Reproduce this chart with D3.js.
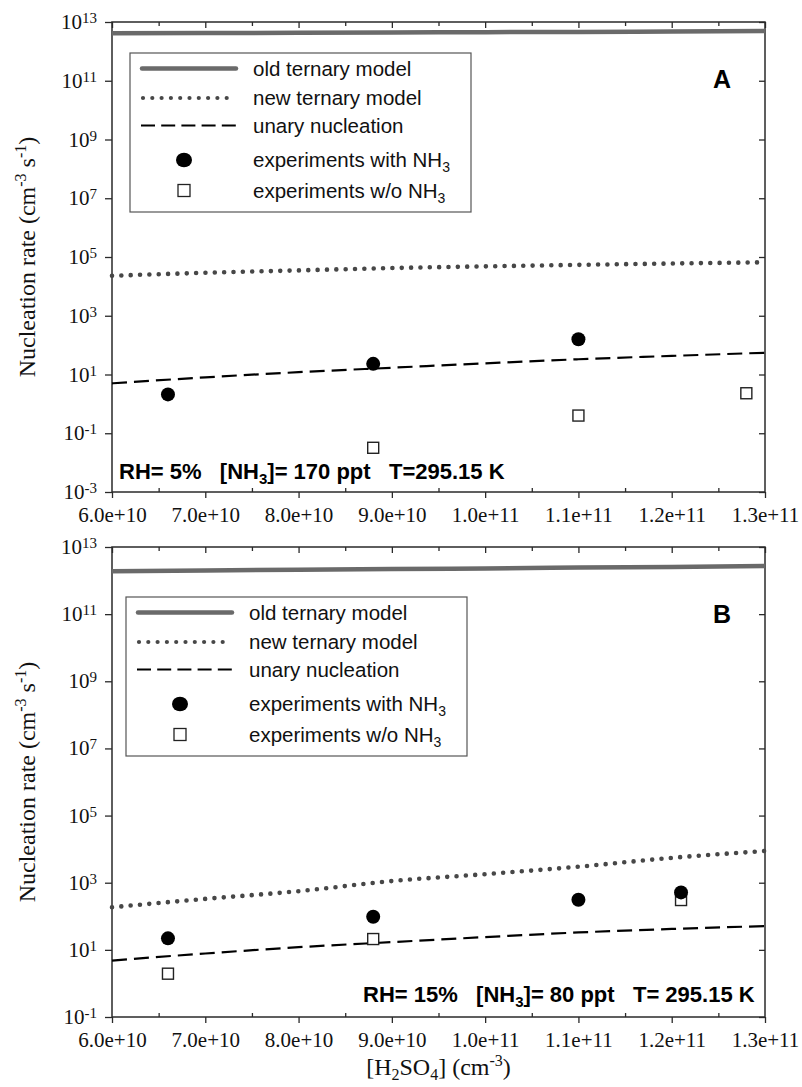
<!DOCTYPE html>
<html>
<head>
<meta charset="utf-8">
<script src="https://cdn.jsdelivr.net/npm/d3@7/dist/d3.min.js"></script>
<style>
  html, body { margin: 0; padding: 0; background: #fff; }
  svg { display: block; }
</style>
</head>
<body>
<svg id="chart" width="802" height="1087"></svg>
<script>
// ---- data ----------------------------------------------------------------
// H2SO4 concentration grid (cm^-3) on which the model curves are given
const modelX = [6.0e10, 7.0e10, 8.0e10, 9.0e10, 1.0e11, 1.1e11, 1.2e11, 1.3e11];

// Panel A: RH 5 %, NH3 170 ppt
const oldTernaryA = [4.1e12, 4.2e12, 4.3e12, 4.4e12, 4.5e12, 4.6e12, 4.75e12, 4.9e12];
const newTernaryA = [2.3e4, 2.9e4, 3.5e4, 4.2e4, 4.8e4, 5.4e4, 6.0e4, 6.6e4];
const unaryA      = [5.0, 8.0, 12, 17, 24, 33, 43, 55];
const withNH3A_x  = [6.6e10, 8.8e10, 1.1e11];
const withNH3A_y  = [2.1, 23, 158];
const noNH3A_x    = [8.8e10, 1.1e11, 1.28e11];
const noNH3A_y    = [0.032, 0.40, 2.3];

// Panel B: RH 15 %, NH3 80 ppt
const oldTernaryB = [1.9e12, 2.0e12, 2.1e12, 2.2e12, 2.3e12, 2.45e12, 2.55e12, 2.7e12];
const newTernaryB = [186, 330, 560, 1.12e3, 1.8e3, 3.0e3, 5.5e3, 8.8e3];
const unaryB      = [4.8, 7.8, 12, 17, 24, 33, 42, 51];
const withNH3B_x  = [6.6e10, 8.8e10, 1.1e11, 1.21e11];
const withNH3B_y  = [22, 97, 310, 515];
const noNH3B_x    = [6.6e10, 8.8e10, 1.21e11];
const noNH3B_y    = [1.95, 21, 305];

// Axis ticks
const xMajorTicks = [6.0e10, 7.0e10, 8.0e10, 9.0e10, 1.0e11, 1.1e11, 1.2e11, 1.3e11];
const xMinorTicks = [6.5e10, 7.5e10, 8.5e10, 9.5e10, 1.05e11, 1.15e11, 1.25e11];
const yExpA = [13, 11, 9, 7, 5, 3, 1, -1, -3];
const yExpB = [13, 11, 9, 7, 5, 3, 1, -1];

const legendLabels = ["old ternary model", "new ternary model", "unary nucleation",
                      "experiments with NH", "experiments w/o NH"];

// ---- drawing -------------------------------------------------------------
const SERIF = '"Liberation Serif", "Times New Roman", Times, serif';
const SANS = '"Liberation Sans", Arial, Helvetica, sans-serif';
const svg = d3.select("#chart");
const X0 = 112, X1 = 765;
const GREY_THICK = "#6a6a6a", GREY_DOT = "#474747", FRAME = "#2a2a2a";

function panel(cfg) {
  const x = d3.scaleLinear().domain([6.0e10, 1.3e11]).range([X0, X1]);
  const y = d3.scaleLog().domain([Math.pow(10, cfg.yMin), 1e13]).range([cfg.bottom, cfg.top]);
  const g = svg.append("g");

  // bottom: major ticks outside with labels, minor ticks inside
  const bx = g.append("g").attr("transform", `translate(0,${cfg.bottom})`)
    .call(d3.axisBottom(x).tickValues(xMajorTicks).tickSize(6).tickPadding(9)
      .tickFormat(d3.format(".1e")));
  bx.attr("font-family", null).attr("font-size", null);
  bx.selectAll("text").style("font-family", SERIF).style("font-size", "21px").attr("fill", "#111");
  g.append("g").attr("transform", `translate(0,${cfg.bottom})`)
    .call(d3.axisBottom(x).tickValues(xMinorTicks).tickSize(-4).tickFormat(""));

  // top: all ticks inside
  g.append("g").attr("transform", `translate(0,${cfg.top})`)
    .call(d3.axisTop(x).tickValues(xMajorTicks).tickSize(-6).tickFormat(""));
  g.append("g").attr("transform", `translate(0,${cfg.top})`)
    .call(d3.axisTop(x).tickValues(xMinorTicks).tickSize(-4).tickFormat(""));

  // left: powers of ten, ticks outside
  const ly = g.append("g").attr("transform", `translate(${X0},0)`)
    .call(d3.axisLeft(y).tickValues(cfg.yExp.map(e => Math.pow(10, e)))
      .tickSize(7).tickPadding(8).tickFormat(""));
  ly.attr("font-family", null).attr("font-size", null);
  ly.selectAll(".tick text").each(function(d) {
    const t = d3.select(this).style("font-family", SERIF).attr("fill", "#111")
      .style("font-size", "21px").attr("dy", "0.31em");
    const e = Math.round(Math.log10(d));
    t.append("tspan").text("10");
    t.append("tspan").attr("dy", "-6").style("font-size", "15px").text(String(e));
  });

  // right: ticks inside
  g.append("g").attr("transform", `translate(${X1},0)`)
    .call(d3.axisRight(y).tickValues(cfg.yExp.map(e => Math.pow(10, e)))
      .tickSize(-6).tickFormat(""));

  g.selectAll(".domain").remove();
  g.selectAll(".tick line").attr("stroke", FRAME).attr("stroke-width", 1.3);

  // frame
  g.append("rect").attr("x", X0).attr("y", cfg.top)
    .attr("width", X1 - X0).attr("height", cfg.bottom - cfg.top)
    .attr("fill", "none").attr("stroke", FRAME).attr("stroke-width", 1.5);

  const line = d3.line().x(d => x(d[0])).y(d => y(d[1])).curve(d3.curveMonotoneX);
  const pts = vals => modelX.map((v, i) => [v, vals[i]]);

  g.append("path").attr("d", line(pts(cfg.oldT))).attr("fill", "none")
    .attr("stroke", GREY_THICK).attr("stroke-width", 4.5);
  g.append("path").attr("d", line(pts(cfg.newT))).attr("fill", "none")
    .attr("stroke", GREY_DOT).attr("stroke-width", 4.6)
    .attr("stroke-linecap", "round").attr("stroke-dasharray", "0 9.35");
  g.append("path").attr("d", line(pts(cfg.unary))).attr("fill", "none")
    .attr("stroke", "#000").attr("stroke-width", 2.2).attr("stroke-dasharray", "15 7");

  // experiments without NH3 (open squares)
  g.selectAll(".sq").data(cfg.noX.map((v, i) => [v, cfg.noY[i]])).enter()
    .append("rect").attr("x", d => x(d[0]) - 5.5).attr("y", d => y(d[1]) - 5.5)
    .attr("width", 11).attr("height", 11)
    .attr("fill", "#fff").attr("stroke", "#222").attr("stroke-width", 1.4);
  // experiments with NH3 (filled circles)
  g.selectAll(".ci").data(cfg.wX.map((v, i) => [v, cfg.wY[i]])).enter()
    .append("circle").attr("cx", d => x(d[0])).attr("cy", d => y(d[1]))
    .attr("r", 7).attr("fill", "#000");

  // legend
  const lg = g.append("g").attr("transform", `translate(${cfg.legX},${cfg.legY})`);
  lg.append("rect").attr("width", 341).attr("height", 159)
    .attr("fill", "#fff").attr("stroke", "#555").attr("stroke-width", 1.2);
  const rows = [15.5, 45, 72.5, 107, 137.5];
  lg.append("line").attr("x1", 12).attr("x2", 106).attr("y1", rows[0]).attr("y2", rows[0])
    .attr("stroke", GREY_THICK).attr("stroke-width", 4.5).attr("stroke-linecap", "round");
  lg.append("line").attr("x1", 13).attr("x2", 106).attr("y1", rows[1]).attr("y2", rows[1])
    .attr("stroke", GREY_DOT).attr("stroke-width", 4.2)
    .attr("stroke-linecap", "round").attr("stroke-dasharray", "0 9.3");
  lg.append("line").attr("x1", 11).attr("x2", 106).attr("y1", rows[2]).attr("y2", rows[2])
    .attr("stroke", "#000").attr("stroke-width", 2.2).attr("stroke-dasharray", "14 6.2");
  lg.append("ellipse").attr("cx", 54).attr("cy", rows[3]).attr("rx", 8).attr("ry", 7.3)
    .attr("fill", "#000");
  lg.append("rect").attr("x", 48).attr("y", rows[4] - 6).attr("width", 12).attr("height", 12)
    .attr("fill", "#fff").attr("stroke", "#222").attr("stroke-width", 1.3);
  legendLabels.forEach((lab, i) => {
    const t = lg.append("text").attr("x", 123).attr("y", rows[i] + 7)
      .style("font-family", SANS).style("font-size", "20.5px").attr("fill", "#111").text(lab);
    if (i >= 3) {
      t.append("tspan").attr("dy", "5").style("font-size", "14px").text("3");
    }
  });

  // panel letter
  g.append("text").attr("x", cfg.letterX).attr("y", cfg.letterY)
    .attr("text-anchor", "middle").style("font-family", SANS)
    .style("font-size", "25px").style("font-weight", "bold")
    .text(cfg.letter);

  // conditions line
  const c = g.append("text").attr("x", cfg.condX).attr("y", cfg.condY)
    .style("font-family", SANS).style("font-size", "22px").style("font-weight", "bold")
    .style("white-space", "pre");
  c.append("tspan").text(cfg.cond[0]);
  c.append("tspan").attr("dy", "5").style("font-size", "15px").text("3");
  c.append("tspan").attr("dy", "-5").text(cfg.cond[1]);

  // y-axis title
  const cy = (cfg.top + cfg.bottom) / 2;
  const yt = g.append("text").style("font-family", SERIF)
    .attr("transform", `translate(35,${cy}) rotate(-90)`)
    .attr("text-anchor", "middle").style("font-size", "24px").attr("fill", "#111");
  yt.append("tspan").text("Nucleation rate (cm");
  yt.append("tspan").attr("dy", "-9").style("font-size", "16px").text("-3");
  yt.append("tspan").attr("dy", "9").text(" s");
  yt.append("tspan").attr("dy", "-9").style("font-size", "16px").text("-1");
  yt.append("tspan").attr("dy", "9").text(")");
}

panel({
  top: 22, bottom: 492, yMin: -3, yExp: yExpA,
  oldT: oldTernaryA, newT: newTernaryA, unary: unaryA,
  wX: withNH3A_x, wY: withNH3A_y, noX: noNH3A_x, noY: noNH3A_y,
  legX: 130, legY: 53, letter: "A", letterX: 722, letterY: 88,
  condX: 119, condY: 479,
  cond: ["RH= 5%   [NH", "]= 170 ppt   T=295.15 K"]
});

panel({
  top: 547, bottom: 1017, yMin: -1, yExp: yExpB,
  oldT: oldTernaryB, newT: newTernaryB, unary: unaryB,
  wX: withNH3B_x, wY: withNH3B_y, noX: noNH3B_x, noY: noNH3B_y,
  legX: 126, legY: 597, letter: "B", letterX: 722, letterY: 623,
  condX: 363, condY: 1002,
  cond: ["RH= 15%   [NH", "]= 80 ppt   T= 295.15 K"]
});

// x-axis title
const xt = svg.append("text").attr("x", 438.5).attr("y", 1075)
  .attr("text-anchor", "middle").style("font-family", SERIF)
  .style("font-size", "24px").attr("fill", "#111");
xt.append("tspan").text("[H");
xt.append("tspan").attr("dy", "5").style("font-size", "16px").text("2");
xt.append("tspan").attr("dy", "-5").text("SO");
xt.append("tspan").attr("dy", "5").style("font-size", "16px").text("4");
xt.append("tspan").attr("dy", "-5").text("] (cm");
xt.append("tspan").attr("dy", "-9").style("font-size", "16px").text("-3");
xt.append("tspan").attr("dy", "9").text(")");
</script>
</body>
</html>
